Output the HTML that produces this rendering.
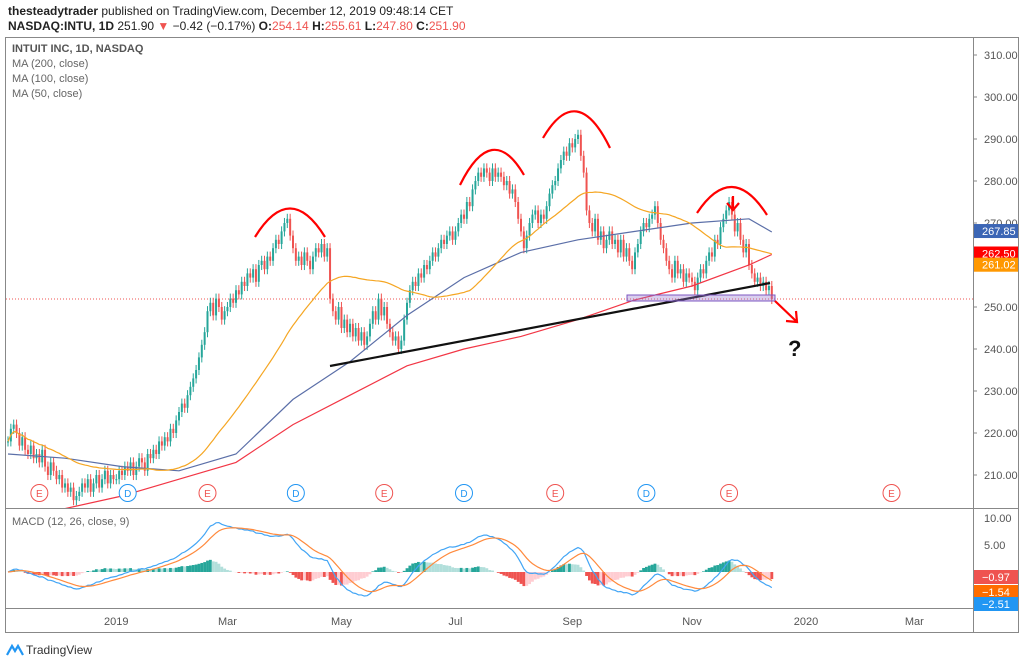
<!DOCTYPE html>
<html><head><meta charset="utf-8"><style>
body{margin:0;background:#fff;font-family:"Liberation Sans",sans-serif}
svg{display:block}
</style></head><body>
<svg id="c" width="1024" height="665" xmlns="http://www.w3.org/2000/svg" font-family="Liberation Sans, sans-serif">
<text x="8" y="15" font-size="12" fill="#222"><tspan font-weight="bold">thesteadytrader</tspan> published on TradingView.com, December 12, 2019 09:48:14 CET</text>
<text x="8" y="30" font-size="12" fill="#222"><tspan font-weight="bold">NASDAQ:INTU, 1D</tspan> 251.90 <tspan fill="#ef5350">▼</tspan> −0.42 (−0.17%) <tspan font-weight="bold">O:</tspan><tspan fill="#ef5350">254.14</tspan> <tspan font-weight="bold">H:</tspan><tspan fill="#ef5350">255.61</tspan> <tspan font-weight="bold">L:</tspan><tspan fill="#ef5350">247.80</tspan> <tspan font-weight="bold">C:</tspan><tspan fill="#ef5350">251.90</tspan></text>
<rect x="5.5" y="37.5" width="1013" height="595" fill="none" stroke="#888"/>
<line x1="973.5" y1="37" x2="973.5" y2="633" stroke="#888"/>
<line x1="5" y1="508.5" x2="1018" y2="508.5" stroke="#888"/>
<line x1="5" y1="608.5" x2="1018" y2="608.5" stroke="#888"/>
<defs><clipPath id="mp"><rect x="6" y="38" width="967" height="470"/></clipPath><clipPath id="mc"><rect x="6" y="509" width="967" height="99"/></clipPath></defs>
<g id="main" clip-path="url(#mp)"></g>
<g id="macd" clip-path="url(#mc)"></g>
<g id="axes"></g>
<text x="12" y="52" font-size="11" fill="#555" font-weight="bold">INTUIT INC, 1D, NASDAQ</text>
<text x="12" y="67" font-size="11" fill="#666">MA (200, close)</text>
<text x="12" y="82" font-size="11" fill="#666">MA (100, close)</text>
<text x="12" y="97" font-size="11" fill="#666">MA (50, close)</text>
<text x="12" y="525" font-size="11" fill="#666">MACD (12, 26, close, 9)</text>
<g>
<path d="M7 655 L12 646 L15 651 L18 646 L23 655" fill="none" stroke="#2196f3" stroke-width="2.2"/>
<text x="26" y="654" font-size="12" fill="#333">TradingView</text></g>
</svg>
<script>
const closes=[218,221,222,220,217,219,216,215,217,214,
215,213,216,212,210,213,211,209,210,207,
208,206,207,204,205,206,208,207,209,206,
208,210,207,209,211,208,210,209,209,211,
210,212,211,213,210,212,214,213,211,215,
214,216,215,218,217,219,218,221,220,223,
225,227,226,229,231,233,235,238,241,244,
249,251,248,252,250,247,249,250,252,251,
254,253,256,255,258,257,259,256,260,261,
259,262,261,264,266,265,268,270,271,267,
264,261,262,260,263,261,259,262,264,263,
265,262,264,252,249,247,250,245,247,244,
246,243,245,242,244,241,243,246,249,247,
252,248,250,246,244,242,243,240,242,247,
251,254,256,255,258,257,260,259,261,263,
262,264,266,265,267,268,266,268,270,272,
271,275,274,278,280,282,281,283,282,280,
283,281,282,281,279,280,277,278,275,271,
268,264,267,270,272,273,270,272,271,274,
277,279,280,283,285,287,286,289,288,290,
291,286,282,273,270,268,271,266,268,264,
266,268,265,266,263,266,262,264,261,259,
263,265,268,270,269,271,272,274,270,266,
264,261,259,257,261,258,259,256,258,257,
256,254,257,259,258,261,263,262,266,265,
269,271,273,275,272,268,270,266,263,265,
260,258,256,257,255,256,254,255,251.9];
const maIdx=[0,20,40,60,80,100,120,140,160,180,200,220,240,260,268];
const ma100=[215,214,212,211,215,228,237,248,257,263,266,268,270,271,267.85];
const ma200=[199,202,205,209,213,222,229,236,240,243,247,251.7,255,260,262.5];
const priceTicks=[310,300,290,280,270,250,240,230,220,210];
const macdTicks=[10,5];
const timeTickIdx=[38,77,117,157,198,240,280,318];
const timeTickLabels=["2019","Mar","May","Jul","Sep","Nov","2020","Mar"];
const earnIdx=[11,70,132,192,253,310];
const divIdx=[42,101,160,224];

const NS="http://www.w3.org/2000/svg";
const X=i=>8+i*2.85;
const Y=p=>55+(310-p)*4.2;
const MY=v=>572-v*5.4;
function mk(t,a,p){const e=document.createElementNS(NS,t);for(const k in a)e.setAttribute(k,a[k]);p.appendChild(e);return e;}
const main=document.getElementById('main'),macd=document.getElementById('macd'),axes=document.getElementById('axes');

// last price line
let lp=mk('line',{x1:6,x2:973,y1:Y(closes[closes.length-1]),y2:Y(closes[closes.length-1]),stroke:'#ef5350','stroke-dasharray':'1,2','stroke-width':1},main);



// candles
closes.forEach((c,i)=>{
 const o=i?closes[i-1]:c;const up=c>=o;const col=up?'#26a69a':'#ef5350';
 const hi=Math.max(o,c)+1.2,lo=Math.min(o,c)-1.2;
 const g=mk('g',{},main);
 
 
 mk('line',{x1:X(i),x2:X(i),y1:Y(hi),y2:Y(lo),stroke:col,'stroke-width':1},g);
 mk('rect',{x:X(i)-1,y:Math.min(Y(o),Y(c)),width:2,height:Math.max(1,Math.abs(Y(o)-Y(c))),fill:col},g);
});
// MA lines
function line(pts,col,name,p){const e=mk('polyline',{points:pts.map(q=>q.join(',')).join(' '),fill:'none',stroke:col,'stroke-width':1.2},p);}
line(maIdx.map((k,j)=>[X(k),Y(ma200[j])]),'#f23645','ma200-line',main);
line(maIdx.map((k,j)=>[X(k),Y(ma100[j])]),'#5b6fa8','ma100-line',main);
const ma50=closes.map((c,i)=>{const s=closes.slice(Math.max(0,i-49),i+1);return s.reduce((a,b)=>a+b,0)/s.length;});
line(ma50.map((v,i)=>[X(i),Y(v)]),'#f5a623','ma50-line',main);

// earnings / dividends
function badge(i,letter,col,name){const g=mk('g',{},main);
 mk('circle',{cx:X(i),cy:493,r:8.5,fill:'#fff',stroke:col,'stroke-width':1},g);
 const t=mk('text',{x:X(i),y:497,'font-size':10,fill:col,'text-anchor':'middle'},g);t.textContent=letter;}
earnIdx.forEach(i=>badge(i,'E','#ef5350','earnings-marker'));
divIdx.forEach(i=>badge(i,'D','#2196f3','dividend-marker'));

// annotations
const ann=mk('g',{fill:'none','stroke-width':2.2},main);


[['M255 237 Q290 180 325 237','#f00'],['M460 185 Q492 120 524 175','#f00'],['M543 138 Q577 80 610 148','#f00'],['M697 213 Q732 160 767 215','#f00']].forEach(a=>mk('path',{d:a[0],stroke:a[1]},ann));
mk('line',{x1:330,y1:366,x2:770,y2:283,stroke:'#111'},ann);
mk('rect',{x:627,y:295,width:148,height:6,fill:'rgba(149,117,205,0.35)',stroke:'#7e57c2','stroke-width':1},ann);
mk('path',{d:'M733 196 L733 208 M727 203 L733 210 L739 203',stroke:'#f00'},ann);
mk('path',{d:'M775 301 L796 321 M786 321 L797 322 L796 311',stroke:'#f00'},ann);
const q=mk('text',{x:788,y:356,'font-size':22,'font-weight':'bold',fill:'#111',stroke:'none'},main);q.textContent='?';


// MACD
function ema(arr,n){const k=2/(n+1);let r=[];arr.forEach((v,i)=>r.push(i?v*k+r[i-1]*(1-k):v));return r;}
const e12=ema(closes,12),e26=ema(closes,26);const m=e12.map((v,i)=>v-e26[i]);const sig=ema(m,9);
m.forEach((v,i)=>{const h=v-sig[i];const ph=i?m[i-1]-sig[i-1]:0;
 const col=h>=0?(h>=ph?'#26a69a':'#b2dfdb'):(h<=ph?'#ef5350':'#ffcdd2');
 const r=mk('rect',{x:X(i)-1.4,y:Math.min(MY(0),MY(h)),width:2.85,height:Math.abs(MY(h)-MY(0)),fill:col},macd);
 });
line(m.map((v,i)=>[X(i),MY(v)]),'#42a5f5','macd-line',macd);
line(sig.map((v,i)=>[X(i),MY(v)]),'#ff8a3d','signal-line',macd);

// axes labels
priceTicks.forEach(v=>{const t=mk('text',{x:984,y:Y(v)+4,'font-size':11,fill:'#555'},axes);t.textContent=v.toFixed(2);
 
 mk('line',{x1:973,x2:977,y1:Y(v),y2:Y(v),stroke:'#888'},axes);});
macdTicks.forEach(v=>{const t=mk('text',{x:984,y:MY(v)+4,'font-size':11,fill:'#555'},axes);t.textContent=v.toFixed(2);
 });
timeTickIdx.forEach((k,j)=>{const t=mk('text',{x:X(k),y:625,'font-size':11,fill:'#555','text-anchor':'middle'},axes);t.textContent=timeTickLabels[j];
 });
function tag(y,txt,bg,name){const g=mk('g',{},axes);
 mk('rect',{x:974,y:y-7,width:44,height:14,fill:bg},g);
 const t=mk('text',{x:982,y:y+4,'font-size':11,fill:'#fff'},g);t.textContent=txt;}
tag(Y(ma100[ma100.length-1])-1,'267.85','#3c66b5','ma100-price-tag');
tag(Y(262.5)-1,'262.50','#ff0000','ma200-price-tag');
tag(Y(261.02)+4,'261.02','#ff9800','ma50-price-tag');
tag(577,'−0.97','#ef5350','histogram-value-tag');
tag(592,'−1.54','#ff6d00','signal-value-tag');
tag(604,'−2.51','#2196f3','macd-value-tag');
</script>
</body></html>
